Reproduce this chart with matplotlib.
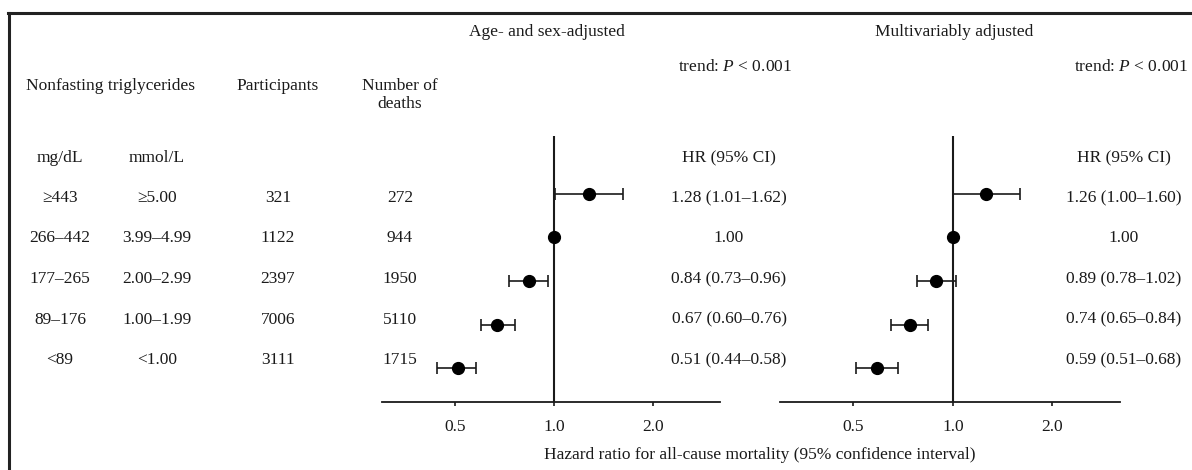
import numpy as np
from matplotlib import pyplot as plt

plt.rcParams['font.family'] = ['Liberation Serif', 'DejaVu Serif']
plt.rcParams['mathtext.fontset'] = 'custom'
plt.rcParams['mathtext.rm'] = 'Liberation Serif'
plt.rcParams['mathtext.it'] = 'Liberation Serif:italic'

mg_dl = ['≥443', '266–442', '177–265', '89–176', '<89']
mmol = ['≥5.00', '3.99–4.99', '2.00–2.99', '1.00–1.99', '<1.00']
participants = [321, 1122, 2397, 7006, 3111]
deaths = [272, 944, 1950, 5110, 1715]

hr_age = np.array([1.28, 1.00, 0.84, 0.67, 0.51])
lo_age = np.array([1.01, np.nan, 0.73, 0.60, 0.44])
hi_age = np.array([1.62, np.nan, 0.96, 0.76, 0.58])

hr_multi = np.array([1.26, 1.00, 0.89, 0.74, 0.59])
lo_multi = np.array([1.00, np.nan, 0.78, 0.65, 0.51])
hi_multi = np.array([1.60, np.nan, 1.02, 0.84, 0.68])

ticks = [0.5, 1.0, 2.0]
tick_labels = ['0.5', '1.0', '2.0']

W, H = 1192, 470
fig = plt.figure(figsize=(W / 100, H / 100), dpi=100)
ink = '#1a1a1a'
fs = 12.5


def txt(x, y, s, ha='center', **kw):
    # x, y in pixels from top-left
    fig.text(x / W, 1 - y / H, s, ha=ha, va='center', fontsize=fs, color=ink, **kw)


def ci_text(hr, lo, hi):
    if np.isnan(lo):
        return '%.2f' % hr
    return '%.2f (%.2f–%.2f)' % (hr, lo, hi)


# frame (top and left edges)
fig.add_artist(plt.Line2D([8 / W, 1], [1 - 13 / H, 1 - 13 / H], color='#222222', lw=2.2))
fig.add_artist(plt.Line2D([9 / W, 9 / W], [1 - 13 / H, 0], color='#222222', lw=2.2))

# table headers
txt(110, 86, 'Nonfasting triglycerides')
txt(278, 86, 'Participants')
txt(400, 95, 'Number of\ndeaths', linespacing=1.1)
txt(60, 158, 'mg/dL')
txt(157, 158, 'mmol/L')

row_y = 198 + 40.5 * np.arange(len(mg_dl))
for i in range(len(mg_dl)):
    txt(60, row_y[i], mg_dl[i])
    txt(157, row_y[i], mmol[i])
    txt(278, row_y[i], str(participants[i]))
    txt(400, row_y[i], str(deaths[i]))


def forest(x0, x1, title, title_x, trend_x, hr_x, hr, lo, hi):
    ax = fig.add_axes([x0 / W, 1 - 402 / H, (x1 - x0) / W, 266 / H])
    ax.set_xscale('log')
    ax.set_xlim(0.30, 3.2)
    ax.set_ylim(4.78, -1.33)
    ax.axvline(1.0, color=ink, lw=1.5)
    idx = np.arange(len(hr))
    ok = ~np.isnan(lo)
    ax.errorbar(hr[ok], idx[ok], xerr=[hr[ok] - lo[ok], hi[ok] - hr[ok]],
                fmt='none', ecolor=ink, elinewidth=1.2, capsize=4.5, capthick=1.2)
    ax.plot(hr, idx, 'o', color='black', markersize=8.5, zorder=3)
    for s in ['top', 'left', 'right']:
        ax.spines[s].set_visible(False)
    ax.spines['bottom'].set_color(ink)
    ax.spines['bottom'].set_linewidth(1.3)
    ax.set_yticks([])
    ax.set_xticks(ticks)
    ax.set_xticklabels(tick_labels)
    ax.minorticks_off()
    ax.tick_params(axis='x', direction='out', length=3, width=1.2, color=ink,
                   labelsize=fs, labelcolor=ink, pad=9)
    ax.patch.set_visible(False)

    txt(title_x, 32, title)
    txt(trend_x, 67, 'trend: $\\it{P}$ < 0.001', ha='right')
    txt(hr_x, 158, 'HR (95% CI)')
    for i in range(len(hr)):
        txt(hr_x, row_y[i], ci_text(hr[i], lo[i], hi[i]))


forest(382, 720, 'Age- and sex-adjusted', 547, 792, 729, hr_age, lo_age, hi_age)
forest(780, 1120, 'Multivariably adjusted', 954, 1188, 1124, hr_multi, lo_multi, hi_multi)

txt(760, 455, 'Hazard ratio for all-cause mortality (95% confidence interval)')

fig.savefig('out.png', dpi=100)
